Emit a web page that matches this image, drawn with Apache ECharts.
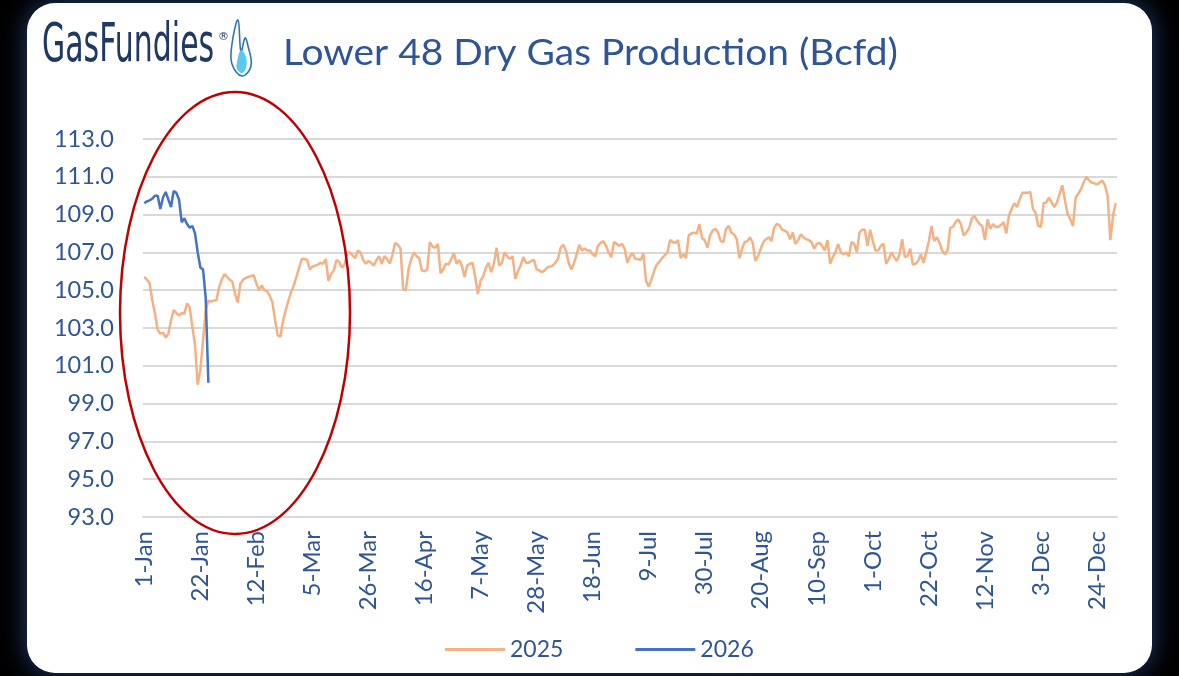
<!DOCTYPE html>
<html>
<head>
<meta charset="utf-8">
<title>Lower 48 Dry Gas Production</title>
<script src="https://cdn.jsdelivr.net/npm/echarts@6/dist/echarts.min.js"></script>
<style>
  html, body { margin: 0; padding: 0; background: #000; }
  #chart { width: 1179px; height: 676px; }
</style>
</head>
<body>
<div id="chart"></div>
<script>
//月份缩写
let monthNames = ['Jan', 'Feb', 'Mar', 'Apr', 'May', 'Jun', 'Jul', 'Aug', 'Sep', 'Oct', 'Nov', 'Dec'];

//每天一个类目 1-Jan ... 31-Dec
let days = [];
for (let i = 0; i < 365; i++) {
  let d = new Date(Date.UTC(2025, 0, 1 + i));
  days.push(d.getUTCDate() + '-' + monthNames[d.getUTCMonth()]);
}

//2025 daily production (Bcfd)
let prod2025 = [
  105.7, 105.55, 105.35, 104.45, 103.75, 102.9, 102.7, 102.75, 102.5, 102.7,
  103.4, 103.95, 103.8, 103.65, 103.8, 103.75, 104.3, 104.1, 103.05, 102.1,
  100.0, 100.8, 102.35, 103.95, 104.45, 104.4, 104.45, 104.45, 105.15, 105.55,
  105.85, 105.7, 105.55, 105.45, 104.8, 104.35, 105.35, 105.55, 105.65, 105.7,
  105.75, 105.8, 105.35, 105.0, 105.25, 105.0, 104.95, 104.7, 104.35, 103.4,
  102.6, 102.55, 103.4, 103.95, 104.45, 104.9, 105.25, 105.7, 106.2, 106.65,
  106.65, 106.6, 106.1, 106.25, 106.3, 106.35, 106.45, 106.4, 106.65, 105.5,
  105.85, 106.05, 106.6, 106.5, 106.2, 106.35, 106.95, 107.0, 106.85, 106.7,
  107.1, 107.0, 106.6, 106.4, 106.55, 106.45, 106.3, 106.6, 106.8, 106.4,
  106.8, 106.65, 106.4, 106.9, 107.5, 107.4, 107.2, 105.05, 105.0, 106.1,
  106.65, 107.0, 106.8, 106.7, 106.05, 106.0, 106.1, 107.55, 107.3, 107.25,
  107.45, 105.9, 106.1, 106.4, 106.35, 106.65, 106.95, 106.4, 106.6, 106.3,
  105.7, 106.3, 106.4, 106.45, 105.7, 104.8, 105.5, 105.75, 106.2, 106.45,
  105.95, 106.4, 107.25, 106.3, 106.45, 107.0, 106.8, 106.65, 106.8, 105.6,
  106.0, 106.3, 106.75, 106.45, 106.45, 106.55, 106.6, 106.1, 106.05, 105.95,
  106.05, 106.2, 106.25, 106.3, 106.45, 106.65, 107.25, 107.4, 107.1, 106.45,
  106.1, 106.4, 106.9, 107.4, 107.1, 107.2, 107.1, 107.1, 106.9, 106.8,
  107.35, 107.5, 107.6, 107.35, 107.0, 106.75, 107.55, 107.45, 107.35, 107.45,
  107.2, 106.45, 106.8, 106.95, 106.65, 106.65, 106.6, 106.95, 105.5, 105.2,
  105.55, 106.0, 106.35, 106.5, 106.7, 106.85, 107.0, 107.65, 107.55, 107.5,
  107.65, 106.7, 106.9, 106.7, 107.9, 108.0, 108.05, 108.0, 108.5, 107.75,
  107.65, 107.25, 107.9, 108.15, 108.25, 108.05, 107.6, 107.55, 108.25, 108.4,
  108.05, 107.95, 107.7, 106.7, 107.2, 107.55, 107.6, 107.8, 107.5, 106.55,
  106.8, 107.2, 107.55, 107.7, 107.8, 107.6, 108.3, 108.5, 108.45, 108.2,
  108.15, 108.05, 107.7, 108.05, 107.45, 107.65, 107.95, 107.8, 107.7, 107.65,
  107.55, 107.2, 107.45, 107.5, 107.35, 107.1, 107.65, 106.4, 106.75, 107.0,
  107.45, 107.0, 106.9, 107.0, 106.8, 107.55, 107.45, 107.0, 108.05, 108.2,
  108.2, 107.35, 108.2, 107.6, 107.1, 107.1, 107.35, 107.45, 106.4, 106.65,
  107.0, 106.75, 106.55, 106.9, 107.7, 106.75, 106.8, 107.2, 106.35, 106.4,
  106.55, 106.9, 106.45, 107.0, 107.6, 108.4, 107.6, 107.8, 107.5, 107.1,
  106.9, 107.1, 108.3, 108.35, 108.6, 108.75, 108.5, 107.9, 108.05, 108.25,
  108.75, 108.95, 108.7, 108.5, 108.4, 107.65, 108.75, 108.25, 108.5, 108.35,
  108.35, 108.45, 108.6, 108.0, 108.95, 109.3, 109.6, 109.4, 109.8, 110.15,
  110.15, 110.15, 110.2, 109.3, 109.1, 108.4, 108.35, 109.6, 109.65, 109.9,
  109.65, 109.4, 109.65, 110.1, 110.55, 109.75, 109.05, 108.75, 108.4, 109.9,
  110.1, 110.35, 110.7, 111.0, 110.8, 110.7, 110.65, 110.6, 110.7, 110.8,
  110.55, 110.0, 107.65, 108.95, 109.6
];

//2026 so far
let prod2026 = [
  109.6, 109.7, 109.75, 109.85, 110.0, 110.0, 109.3, 109.9, 110.2, 109.8,
  109.4, 110.25, 110.15, 109.8, 108.6, 108.8, 108.5, 108.3, 108.4, 108.0,
  107.0, 106.2, 106.1, 104.6, 100.1
];

//y轴范围
let yMin = 93;
let yMax = 113;
let yStep = 2;

let seriesNames = ['2025', '2026'];
let seriesColors = ['#f4b183', '#4472c4'];

let labelBlue = '#2f5597';
let font = 'Lato';

let chart = echarts.init(document.getElementById('chart'), null, { renderer: 'canvas' });

let option = {
  backgroundColor: '#000',
  animation: false,
  textStyle: { fontFamily: font },
  grid: {
    left: 143,
    right: 62,
    top: 139,
    bottom: 159
  },
  legend: {
    data: seriesNames,
    left: 440,
    top: 633,
    icon: 'rect',
    itemWidth: 60,
    itemHeight: 3,
    itemGap: 72,
    textStyle: { color: labelBlue, fontSize: 23, fontFamily: font }
  },
  xAxis: {
    type: 'category',
    data: days,
    boundaryGap: true,
    axisLine: { show: true, lineStyle: { color: '#d9d9d9', width: 2 } },
    axisTick: { show: false },
    axisLabel: {
      interval: 20,
      rotate: 90,
      margin: 14,
      color: labelBlue,
      fontSize: 24,
      fontFamily: font
    },
    splitLine: { show: false }
  },
  yAxis: {
    type: 'value',
    min: yMin,
    max: yMax,
    interval: yStep,
    axisLine: { show: false },
    axisTick: { show: false },
    axisLabel: {
      margin: 29,
      color: labelBlue,
      fontSize: 23.5,
      fontFamily: font,
      formatter: v => v.toFixed(1)
    },
    splitLine: { lineStyle: { color: '#d9d9d9', width: 2 } }
  },
  series: [
    {
      name: seriesNames[0],
      type: 'line',
      data: prod2025,
      symbol: 'none',
      lineStyle: { color: seriesColors[0], width: 2.5 },
      itemStyle: { color: seriesColors[0] }
    },
    {
      name: seriesNames[1],
      type: 'line',
      data: prod2026,
      symbol: 'none',
      lineStyle: { color: seriesColors[1], width: 2.5 },
      itemStyle: { color: seriesColors[1] }
    }
  ],
  graphic: [
    //白色卡片
    {
      type: 'rect',
      z: -10,
      shape: { x: 27, y: 3, width: 1125, height: 670, r: 28 },
      style: { fill: '#fff', shadowBlur: 24, shadowColor: 'rgba(40,70,130,0.9)' }
    },
    //logo
    {
      type: 'text',
      x: 42,
      y: 74,
      scaleX: 0.555,
      style: {
        text: 'GasFundies',
        fill: '#1f3864',
        font: '54px "DejaVu Sans"',
        textVerticalAlign: 'bottom'
      }
    },
    {
      type: 'text',
      x: 218,
      y: 32,
      style: { text: '®', fill: '#1f3864', font: '11px "DejaVu Sans"' }
    },
    //火焰
    {
      type: 'polygon',
      shape: {
        points: [[238, 20], [232, 44], [232, 64], [242, 76], [251, 66], [248, 46], [245, 38], [241, 52]],
        smooth: 0.4
      },
      style: { fill: 'none', stroke: '#2e75b6', lineWidth: 1.6 }
    },
    {
      type: 'polygon',
      shape: {
        points: [[237, 62], [241, 50], [246, 57], [246, 68], [242, 73], [237, 69]],
        smooth: 0.4
      },
      style: { fill: '#5bc8f0' }
    },
    //标题
    {
      type: 'text',
      x: 283,
      y: 53,
      scaleX: 1.08,
      style: {
        text: 'Lower 48 Dry Gas Production (Bcfd)',
        fill: labelBlue,
        font: '36px Lato',
        textVerticalAlign: 'middle'
      }
    },
    //红色椭圆标注
    {
      type: 'ellipse',
      z: 100,
      shape: { cx: 235, cy: 313, rx: 115, ry: 221 },
      style: { fill: 'none', stroke: '#c00000', lineWidth: 2.5 }
    }
  ]
};

chart.setOption(option);
</script>
</body>
</html>
